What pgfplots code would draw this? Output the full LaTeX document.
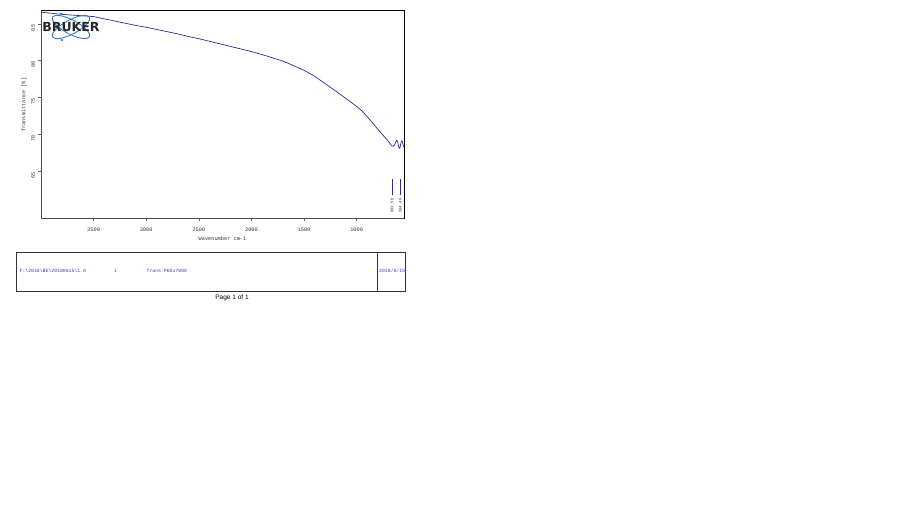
\documentclass[border=0pt]{standalone}
\usepackage{pgfplots}
\pgfplotsset{compat=1.18}
\usepackage{fontspec}
\setmainfont{Liberation Sans}
\newfontfamily\monofont{Liberation Mono}
\newfontfamily\logofont{DejaVu Sans}

\definecolor{spec}{RGB}{45,45,140}
\definecolor{orbit}{RGB}{55,125,200}
\definecolor{infoblue}{RGB}{60,60,190}

\begin{document}
\begin{tikzpicture}
\useasboundingbox[fill=white] (0,0) rectangle (900pt,-506pt);

\begin{axis}[
    at={(41pt,-218.7pt)}, anchor=south west,
    scale only axis, width=363pt, height=208pt,
    x dir=reverse,
    xmin=550, xmax=4000, ymin=58.55, ymax=86.8,
    xtick={1000,1500,...,3500},
    ytick={65,70,...,85},
    xtick pos=bottom, ytick pos=left,
    tick align=outside,
    major tick length=2.5pt,
    tick style={black!60, line width=0.6pt},
    axis line style={black!70, line width=0.6pt},
    /pgf/number format/assume math mode=true,
    /pgf/number format/set thousands separator={},
    ticklabel style={font=\monofont\fontsize{5.3}{6}\selectfont, black!80},
    yticklabel style={rotate=90, anchor=south, xshift=-4pt},
    xticklabel style={yshift=-3pt},
    xlabel={Wavenumber cm-1},
    ylabel={Transmittance [\%]},
    label style={font=\monofont\fontsize{5.3}{6}\selectfont, black!80},
    xlabel style={yshift=2pt},
    ylabel style={yshift=-2pt, xshift=10pt},
    clip=false,
]
\addplot[spec, line width=0.7pt] coordinates {
(4000,86.6) (3900,86.45) (3800,86.3) (3700,86.2) (3600,86.1) (3500,86.0)
(3400,85.7) (3300,85.4) (3200,85.1) (3100,84.8) (3000,84.55) (2900,84.25)
(2800,83.95) (2700,83.65) (2600,83.3) (2500,83.0) (2400,82.65) (2300,82.3)
(2200,81.95) (2100,81.6) (2000,81.25) (1900,80.85) (1800,80.4) (1700,79.95)
(1600,79.35) (1500,78.7) (1400,77.9) (1300,76.9) (1200,75.9) (1100,74.85)
(1000,73.8) (950,73.2) (900,72.4) (850,71.6) (800,70.7) (750,69.9)
(700,69.1) (680,68.7) (665,68.45) (650,68.4) (640,68.55) (630,68.9)
(620,69.2) (610,69.0) (600,68.3) (590,68.1) (585,68.4) (575,69.1)
(565,69.0) (555,68.4) (550,68.3)
};
\addplot[spec, line width=0.6pt] coordinates {(663.6,61.8) (663.6,64.0)};
\addplot[spec, line width=0.6pt] coordinates {(584.5,61.8) (584.5,64.0)};
\node[rotate=90, anchor=east, font=\monofont\fontsize{4}{4}\selectfont, inner sep=0.5pt, black!80]
  at (axis cs:663.6,61.4) {663.58};
\node[rotate=90, anchor=east, font=\monofont\fontsize{4}{4}\selectfont, inner sep=0.5pt, black!80]
  at (axis cs:584.5,61.4) {584.48};
\end{axis}

% top and right frame
\draw[black, line width=0.5pt] (41pt,-10.7pt) -- (404pt,-10.7pt) -- (404pt,-218.7pt);

% logo
\begin{scope}[shift={(71pt,-27pt)}]
\draw[orbit, line width=0.9pt, rotate=28] (0,0) ellipse (21pt and 7pt);
\draw[orbit, line width=0.9pt, rotate=-28] (0,0) ellipse (21pt and 7pt);
\fill[orbit] (-10pt,13pt) circle (1.4pt);
\fill[orbit] (-9pt,-13pt) circle (1.4pt);
\node[font=\logofont\bfseries\fontsize{12.5}{12}\selectfont, text=black!85, inner sep=0pt] at (0pt,0pt) {BRUKER};
\end{scope}

% info box
\draw[black!80, line width=0.6pt] (16pt,-252.7pt) rectangle (405.7pt,-291.5pt);
\draw[black!80, line width=0.6pt] (377.7pt,-252.7pt) -- (377.7pt,-291.5pt);
\begin{scope}[font=\monofont\fontsize{4.8}{5}\selectfont, text=infoblue, inner sep=0pt]
\node[anchor=west] at (19.5pt,-271pt) {F:\textbackslash 2018\textbackslash BE\textbackslash 20180615\textbackslash 1.0};
\node[anchor=west] at (114pt,-271pt) {1};
\node[anchor=west] at (146.5pt,-271pt) {Trans PEDx7000};
\node[anchor=west] at (379pt,-271pt) {2018/6/15};
\end{scope}
\node[font=\fontsize{6.5}{7}\selectfont, inner sep=0pt] at (232pt,-298pt) {Page 1 of 1};
\end{tikzpicture}
\end{document}
